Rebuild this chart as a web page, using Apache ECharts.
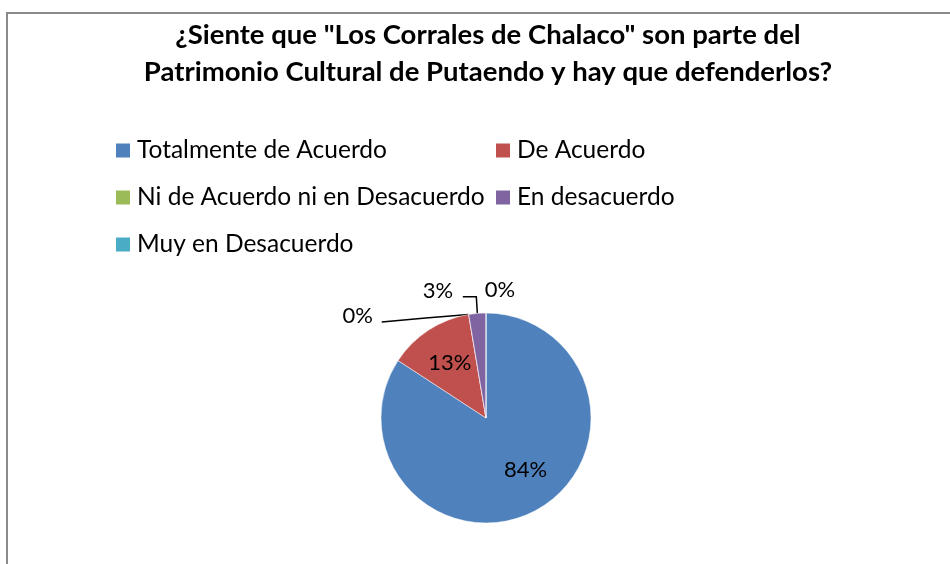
<!DOCTYPE html>
<html>
<head>
<meta charset="utf-8">
<script src="https://cdn.jsdelivr.net/npm/echarts@6/dist/echarts.min.js"></script>
<style>html,body{margin:0;padding:0;background:#fff}#c{width:950px;height:564px}</style>
</head>
<body>
<div id="c"></div>
<script>
const titleText = '¿Siente que "Los Corrales de Chalaco" son parte del\nPatrimonio Cultural de Putaendo y hay que defenderlos?';
const categories = ['Totalmente de Acuerdo', 'De Acuerdo', 'Ni de Acuerdo ni en Desacuerdo', 'En desacuerdo', 'Muy en Desacuerdo'];
const values = [32, 5, 0, 1, 0];
const colors = ['#4F81BD', '#C0504D', '#9BBB59', '#8064A2', '#4BACC6'];
const legendCol1 = ['Totalmente de Acuerdo', 'Ni de Acuerdo ni en Desacuerdo', 'Muy en Desacuerdo'];
const legendCol2 = ['De Acuerdo', 'En desacuerdo'];

const FONT = 'Lato';
const CX = 486, CY = 418, R = 105;
const total = values.reduce((a, b) => a + b, 0);
function midAngle(i) {
  let s = 0;
  for (let k = 0; k < i; k++) s += values[k];
  return ((s + values[i] / 2) / total) * Math.PI * 2;
}
function edge(i, f) {
  const t = midAngle(i);
  return [CX + R * f * Math.sin(t), CY - R * f * Math.cos(t)];
}

const chart = echarts.init(document.getElementById('c'));
const legendBase = {
  orient: 'vertical', itemWidth: 14, itemHeight: 14, itemGap: 22, icon: 'rect', padding: 0,
  itemStyle: { borderWidth: 0 },
  textStyle: { fontFamily: FONT, fontSize: 24.5, lineHeight: 24, color: '#000', padding: [0, 0, 0, 2] },
  selectedMode: false
};
chart.setOption({
  backgroundColor: '#fff',
  animation: false,
  color: colors,
  title: {
    text: titleText, left: 483, top: 12, textAlign: 'center',
    textStyle: { fontFamily: FONT, fontWeight: 'bold', fontSize: 27.5, color: '#000', lineHeight: 37 }
  },
  legend: [
    Object.assign({}, legendBase, { data: legendCol1, left: 116, top: 138 }),
    Object.assign({}, legendBase, { data: legendCol2, left: 496, top: 138 })
  ],
  graphic: [{
    type: 'rect', shape: { x: 7, y: 13, width: 1000, height: 1000 },
    style: { fill: 'none', stroke: '#8a8a8a', lineWidth: 2 }, silent: true
  }],
  series: [{
    type: 'pie',
    center: [CX, CY],
    radius: R,
    startAngle: 90,
    clockwise: true,
    percentPrecision: 0,
    avoidLabelOverlap: false,
    itemStyle: { borderColor: '#fff', borderWidth: 0.5 },
    label: {
      show: true, formatter: '{d}%', fontFamily: FONT, fontSize: 22, color: '#000'
    },
    labelLine: { show: true, length: 10, length2: 10, lineStyle: { color: '#000', width: 1.5 } },
    data: categories.map((n, i) => ({
      name: n, value: values[i],
      labelLine: { show: i === 2 || i === 3 }
    })),
    labelLayout: function (p) {
      const i = p.dataIndex;
      if (i === 0 || i === 1) {
        const q = edge(i, 0.63);
        const off = i === 0 ? [8, -6] : [0, 0];
        return { x: q[0] + off[0], y: q[1] + off[1], align: 'center', verticalAlign: 'middle' };
      }
      const e = edge(i, 1);
      if (i === 2) {
        return { x: e[0] - 111, y: e[1] + 1.5, align: 'center', verticalAlign: 'middle',
          labelLinePoints: [e, [e[0] - 43, e[1] + 3.5], [e[0] - 87, e[1] + 7.5]] };
      }
      if (i === 3) {
        return { x: e[0] - 39.5, y: e[1] - 22.5, align: 'center', verticalAlign: 'middle',
          labelLinePoints: [e, [e[0] - 1, e[1] - 16.5], [e[0] - 14.5, e[1] - 16.5]] };
      }
      return { x: e[0] + 14, y: e[1] - 23, align: 'center', verticalAlign: 'middle' };
    }
  }]
});
</script>
</body>
</html>
